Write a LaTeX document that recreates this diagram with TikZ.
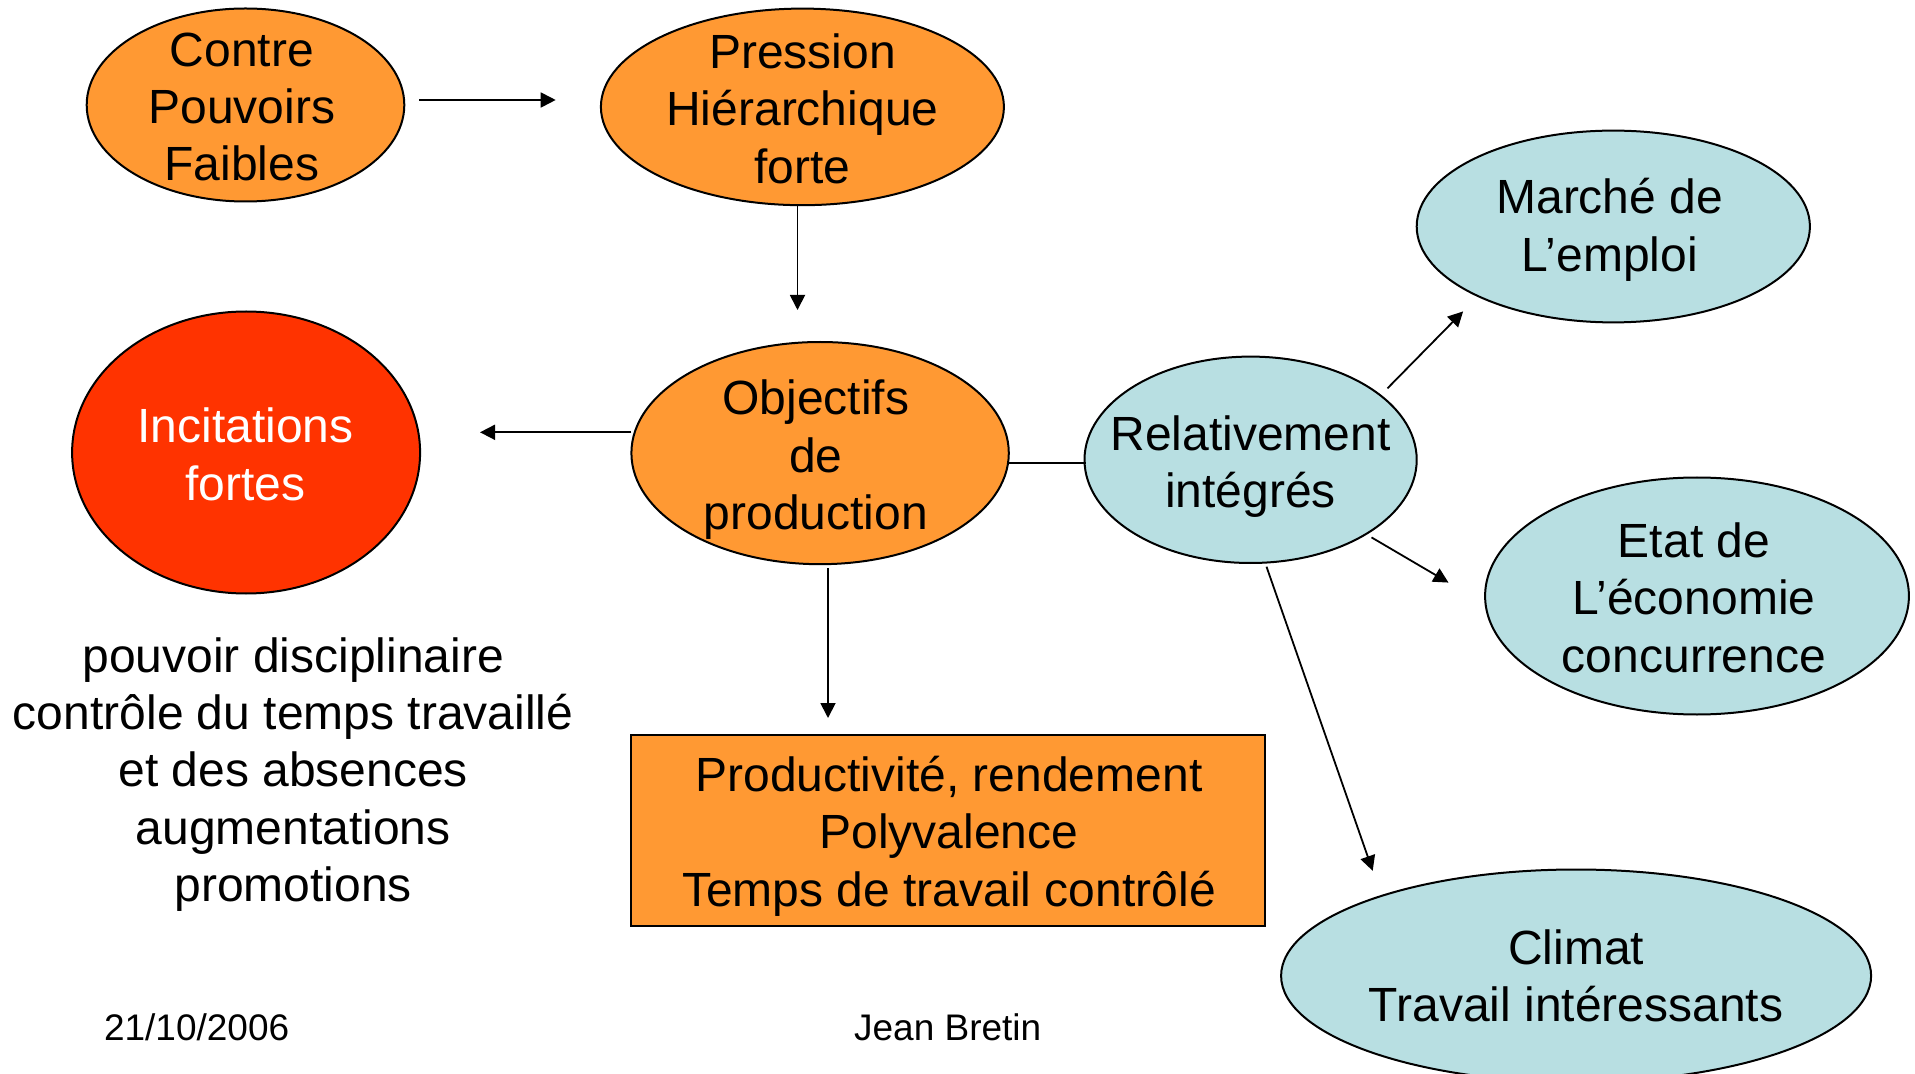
\documentclass[tikz,border=0pt]{standalone}
\usepackage{fontspec}
\setmainfont{Liberation Sans}
\usetikzlibrary{shapes.geometric,arrows.meta}
\definecolor{orng}{HTML}{FF9933}
\definecolor{redd}{HTML}{FF3300}
\definecolor{lblue}{HTML}{B8DFE2}
\begin{document}
\begin{tikzpicture}[x=0.5pt,y=-0.5pt,
  ell/.style={ellipse, draw=black, line width=1pt, inner sep=0pt},
  txt/.style={align=center, inner sep=0pt, font=\fontsize{24}{28.7}\selectfont},
  foot/.style={inner sep=0pt, font=\fontsize{18.5}{22}\selectfont},
  arr/.style={line width=0.9pt, -{Triangle[length=7.5pt,width=7.5pt]}},
  con/.style={line width=0.9pt}]
\path[use as bounding box, fill=white] (0,0) rectangle (1915,1074);

% shapes
\node[ell, fill=orng, minimum width=158.8pt, minimum height=96.5pt] (cpf) at (245.5,105) {};
\node[ell, fill=orng, minimum width=201.5pt, minimum height=98.3pt] (phf) at (802.4,106.9) {};
\node[ell, fill=orng, minimum width=188.7pt, minimum height=111.1pt] (obj) at (820.1,453.1) {};
\node[ell, fill=redd, minimum width=174pt, minimum height=141pt] (inc) at (246.1,452.5) {};
\node[ell, fill=lblue, minimum width=166.1pt, minimum height=103.2pt] (rel) at (1250.6,459.8) {};
\node[ell, fill=lblue, minimum width=196.6pt, minimum height=95.9pt] (mar) at (1613.3,226.5) {};
\node[ell, fill=lblue, minimum width=211.9pt, minimum height=118.5pt] (eta) at (1697,596) {};
\node[ell, fill=lblue, minimum width=295pt, minimum height=106.3pt] (cli) at (1576.1,975.8) {};
\node[rectangle, draw=black, line width=1pt, fill=orng, inner sep=0pt,
      minimum width=316.95pt, minimum height=95.25pt] (box) at (948.35,830.45) {};

% texts
\node[txt] (cpft) at (241.8,106.9) {Contre\\Pouvoirs\\Faibles};
\node[txt] (phft) at (802.4,108.6) {Pression\\Hiérarchique\\forte};
\node[txt] (objt) at (815.8,459.9) {Objectifs\\de\\production};
\node[txt, text=white] (inct) at (245.5,454.3) {Incitations\\fortes};
\node[txt] (relt) at (1250.6,466.3) {Relativement\\intégrés};
\node[txt] (mart) at (1609.7,229.7) {Marché de\\L’emploi};
\node[txt] (etat) at (1694,597.8) {Etat de\\L’économie\\concurrence};
\node[txt] (clit) at (1576.1,975.8) {Climat\\Travail intéressants};
\node[txt] (boxt) at (949,836.3) {Productivité, rendement\\Polyvalence\\Temps de travail contrôlé};
\node[txt] (left) at (293.1,774.4) {pouvoir disciplinaire\\contrôle du temps travaillé\\et des absences\\augmentations\\promotions};
\node[foot] (date) at (196.6,1027) {21/10/2006};
\node[foot] (auth) at (947.7,1027) {Jean Bretin};

% connectors
\draw[arr] ([shift={(173.5,-5)}]cpf.center) -- ([shift={(-246.7,-6.9)}]phf.center);
\draw[arr] ([shift={(-4.9,98.1)}]phf.center) -- ([shift={(-22.6,-143.1)}]obj.center);
\draw[arr] ([shift={(-188.7,-20.8)}]obj.center) -- ([shift={(233.9,-20.2)}]inc.center);
\draw[arr] ([shift={(7.9,114.9)}]obj.center) -- ([shift={(-120.35,-112.45)}]box.center);
\draw[con] ([shift={(188.7,9.8)}]obj.center) -- ([shift={(-164.9,3.1)}]rel.center);
\draw[arr] ([shift={(136.8,-71.4)}]rel.center) -- ([shift={(-150.2,84.9)}]mar.center);
\draw[arr] ([shift={(120.9,77.6)}]rel.center) -- ([shift={(-248.5,-13.4)}]eta.center);
\draw[arr] ([shift={(15.9,106.9)}]rel.center) -- ([shift={(-203.4,-105)}]cli.center);
\end{tikzpicture}
\end{document}
